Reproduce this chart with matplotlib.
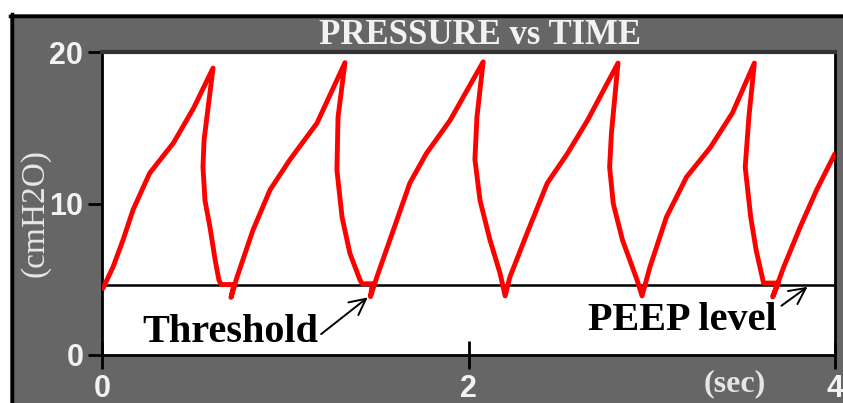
import matplotlib
matplotlib.use("Agg")
import matplotlib.pyplot as plt
from matplotlib.patches import Rectangle

# pressure trace (time in s, pressure in cmH2O)
t = [0.005, 0.06, 0.115, 0.17, 0.26, 0.39, 0.50, 0.606,
     0.557, 0.551, 0.562, 0.589, 0.617, 0.638, 0.65, 0.72, 0.704,
     0.737, 0.824, 0.917, 1.026, 1.173, 1.326,
     1.288, 1.282, 1.31, 1.353, 1.408, 1.42, 1.475, 1.465,
     1.50, 1.59, 1.68, 1.77, 1.90, 2.08,
     2.046, 2.035, 2.063, 2.117, 2.172, 2.20,
     2.226, 2.32, 2.43, 2.54, 2.65, 2.816,
     2.78, 2.77, 2.79, 2.84, 2.92, 2.947,
     2.99, 3.08, 3.19, 3.32, 3.44, 3.56,
     3.53, 3.51, 3.54, 3.57, 3.61, 3.69, 3.66,
     3.72, 3.81, 3.90, 4.0]
p = [4.4, 5.8, 7.6, 9.6, 12.0, 14.0, 16.3, 18.94,
     14.2, 12.4, 10.2, 8.45, 6.3, 4.95, 4.65, 4.65, 3.8,
     5.15, 8.25, 10.9, 12.9, 15.3, 19.3,
     15.7, 12.2, 9.1, 6.7, 4.95, 4.7, 4.7, 3.85,
     5.15, 8.25, 11.35, 13.3, 15.5, 19.35,
     15.7, 12.9, 10.2, 7.6, 5.4, 3.9,
     5.15, 8.05, 11.35, 13.3, 15.5, 19.27,
     14.65, 12.4, 10.0, 7.6, 4.95, 3.9,
     5.8, 9.1, 11.75, 13.7, 15.97, 19.27,
     15.7, 12.4, 9.1, 6.9, 4.75, 4.75, 3.83,
     5.8, 8.45, 10.9, 13.3]

peep = 4.65
xticks = [0, 2, 4]
yticks = [0, 10, 20]

gray = "#666666"
label_col = "#f2f2f2"
tick_font = ["Liberation Sans Narrow", "Liberation Sans", "DejaVu Sans"]
serif = ["Liberation Serif", "DejaVu Serif"]

fig = plt.figure(figsize=(8.43, 4.03), dpi=100, facecolor="white")

# grey panel with black border on top and left
fig.patches.append(Rectangle((10 / 843, 0), 1, 1 - 14 / 403, transform=fig.transFigure,
                             facecolor=gray, edgecolor="none", zorder=-5))
fig.lines.append(plt.Line2D([11.5 / 843, 11.5 / 843], [0, 1 - 14 / 403], transform=fig.transFigure,
                            color="black", lw=2.5, zorder=-4))
fig.lines.append(plt.Line2D([10 / 843, 1], [1 - 15.5 / 403, 1 - 15.5 / 403], transform=fig.transFigure,
                            color="black", lw=2.5, zorder=-4))

ax = fig.add_axes([102 / 843, 1 - 355 / 403, 733 / 843, 303 / 403])
ax.set_zorder(1)
ax.set_facecolor("white")

ax.axhline(peep, color="black", lw=1.8, zorder=2)
ax.plot(t, p, color="#ff0000", lw=3.5, solid_joinstyle="round", solid_capstyle="round", zorder=3)

ax.set_xlim(0, 4)
ax.set_ylim(0, 20)
ax.set_xticks(xticks)
ax.set_yticks(yticks)
ax.tick_params(axis="x", direction="inout", length=20, width=2, color="black", pad=4,
               labelsize=22, labelcolor=label_col)
ax.tick_params(axis="y", direction="out", length=10, width=2, color="black", pad=3.5,
               labelsize=22, labelcolor=label_col)
for lab in ax.get_xticklabels() + ax.get_yticklabels():
    lab.set_family(tick_font)
    lab.set_fontweight("bold")

for side in ["left", "bottom", "right"]:
    ax.spines[side].set_color("black")
    ax.spines[side].set_linewidth(2)
ax.spines["top"].set_color("#333333")
ax.spines["top"].set_linewidth(3)

fig.text(480 / 843, 1 - 35 / 403, "PRESSURE vs TIME", ha="center", va="center",
         color=label_col, fontsize=25, fontweight="bold", family=serif)
fig.text(35 / 843, 1 - 213 / 403, "(cmH2O)", rotation=90, ha="center", va="center",
         color="#e6e6e6", fontsize=24, family=serif)
fig.text(735 / 843, 1 - 384 / 403, "(sec)", ha="center", va="center",
         color="#e6e6e6", fontsize=23, fontweight="bold", family=serif)

ax.annotate("Threshold", xy=(1.45, 3.8), xytext=(0.22, 0.85), ha="left", va="baseline",
            fontsize=29, fontweight="bold", family=serif, color="black",
            arrowprops=dict(arrowstyle="->", color="black", lw=1.4, shrinkA=0, shrinkB=0,
                            relpos=(1.0, 0.4)))
ax.annotate("PEEP level", xy=(3.85, 4.5), xytext=(2.65, 1.65), ha="left", va="baseline",
            fontsize=29, fontweight="bold", family=serif, color="black",
            arrowprops=dict(arrowstyle="->", color="black", lw=1.4, shrinkA=2, shrinkB=0,
                            relpos=(1.0, 0.8)))

fig.savefig("out.png", dpi=100, facecolor=fig.get_facecolor())
